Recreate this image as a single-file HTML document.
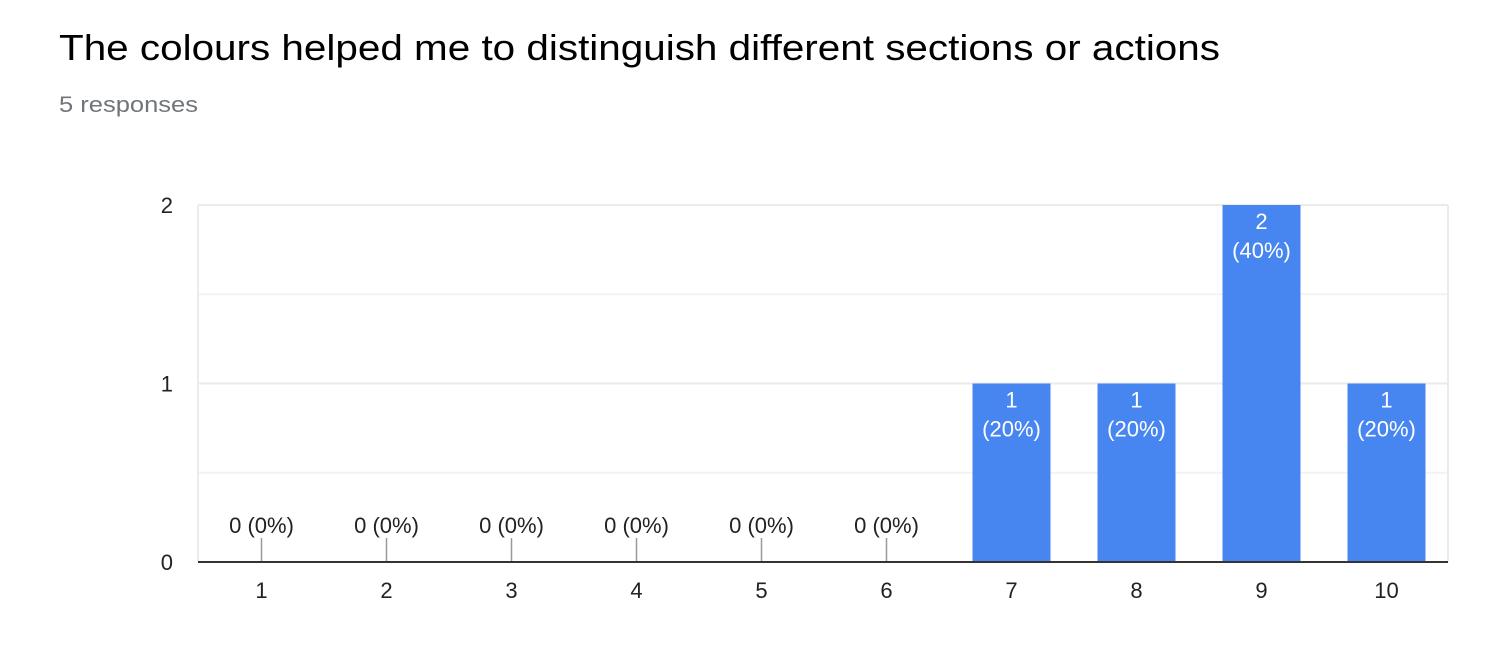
<!DOCTYPE html>
<html><head><meta charset="utf-8"><style>
body{margin:0;background:#fff;width:1488px;height:654px;overflow:hidden;font-family:"Liberation Sans",Arial,sans-serif}
</style></head><body>
<svg id="chart" width="1488" height="654" xmlns="http://www.w3.org/2000/svg" font-family="Liberation Sans, Arial, sans-serif">
<text x="59" y="60" font-size="36" fill="#000" textLength="1161" lengthAdjust="spacingAndGlyphs">The colours helped me to distinguish different sections or actions</text>
<text x="59" y="112" font-size="22" fill="#70757a" textLength="139" lengthAdjust="spacingAndGlyphs">5 responses</text>
<g id="plot"></g>
</svg>
<script>
const categories=["1","2","3","4","5","6","7","8","9","10"];
const counts=[0,0,0,0,0,0,1,1,2,1];
const percents=["0%","0%","0%","0%","0%","0%","20%","20%","40%","20%"];
const yTicks=[0,1,2];
const L=199,R=1449,T=205,B=562,yMax=2;
const band=(R-L)/categories.length, barW=78;
const xC=i=>L+band*(i+0.5);
const y=v=>B-(B-T)*v/yMax;
const NS="http://www.w3.org/2000/svg";
const g=document.getElementById('plot');
function mk(t,a,txt){const e=document.createElementNS(NS,t);for(const k in a)e.setAttribute(k,a[k]);if(txt!=null)e.textContent=txt;g.appendChild(e);return e;}
for(let v=0;v<=yMax;v+=0.5){
  if(v===0)continue;
  const l=mk('line',{x1:L-1,x2:R-1,y1:y(v),y2:y(v),stroke:Number.isInteger(v)?'#ebebeb':'#f3f3f3','stroke-width':2});
  
  
}
const lb=mk('line',{x1:L-1,x2:L-1,y1:T,y2:B,stroke:'#ebebeb','stroke-width':2});


const rb=mk('line',{x1:R-1,x2:R-1,y1:T,y2:B,stroke:'#ebebeb','stroke-width':2});


yTicks.forEach(v=>{
  const t=mk('text',{x:173,y:y(v)+8,'font-size':22,fill:'#222','text-anchor':'end'},String(v));
  
  
});
categories.forEach((c,i)=>{
  const cx=xC(i),v=counts[i];
  if(v>0){
    const r=mk('rect',{x:cx-barW/2,y:y(v),width:barW,height:B-y(v),fill:'#4786f0'});
    
    
    const t1=mk('text',{x:cx,y:y(v)+24,'font-size':22,fill:'#fff','text-anchor':'middle'},String(v));
    
    
    const t2=mk('text',{x:cx,y:y(v)+53,'font-size':22,fill:'#fff','text-anchor':'middle'},'('+percents[i]+')');
    
    
  }else{
    const s=mk('line',{x1:cx,x2:cx,y1:B-24,y2:B,stroke:'#999','stroke-width':1.5});
    
    
    const t=mk('text',{x:cx,y:B-29,'font-size':22,fill:'#222','text-anchor':'middle'},v+' ('+percents[i]+')');
    
    
  }
  const xl=mk('text',{x:cx,y:598,'font-size':22,fill:'#222','text-anchor':'middle'},c);
  
  
});
const ax=mk('line',{x1:L-1,x2:R-1,y1:B,y2:B,stroke:'#333','stroke-width':2});


</script>
</body></html>
